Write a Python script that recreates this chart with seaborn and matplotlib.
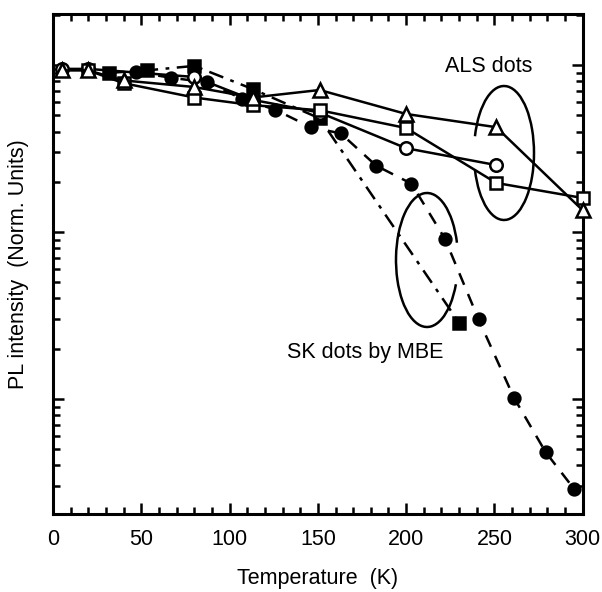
import numpy as np
import pandas as pd
import matplotlib
matplotlib.use("Agg")
import matplotlib.pyplot as plt
import seaborn as sns
from matplotlib.patches import Arc
from matplotlib.transforms import IdentityTransform
from matplotlib.ticker import MultipleLocator, LogLocator, NullFormatter

# SK dots by MBE (filled circles, dashed)
sk_circ_T = [47, 67, 87, 107, 126, 146, 163, 183, 203, 222, 241, 261, 279, 295]
sk_circ_I = [0.91, 0.84, 0.79, 0.63, 0.54, 0.425, 0.39, 0.25, 0.195, 0.091, 0.030, 0.0102, 0.0048, 0.0029]
# SK dots by MBE (filled squares, dash-dot)
sk_sq_T = [32, 53, 80, 113, 151, 230]
sk_sq_I = [0.90, 0.93, 0.99, 0.72, 0.48, 0.0286]
# ALS dots (open markers, solid)
als_tri_T = [5, 20, 40, 80, 113, 151, 200, 251, 300]
als_tri_I = [0.93, 0.93, 0.81, 0.74, 0.64, 0.71, 0.51, 0.425, 0.135]
als_circ_T = [5, 20, 80, 113, 151, 200, 251]
als_circ_I = [0.95, 0.95, 0.85, 0.62, 0.52, 0.318, 0.252]
als_sq_T = [20, 40, 80, 113, 151, 200, 251, 300]
als_sq_I = [0.93, 0.78, 0.64, 0.576, 0.537, 0.42, 0.197, 0.16]

x_ticks = [0, 50, 100, 150, 200, 250, 300]

sns.set_theme(style="ticks")
plt.rcParams['font.family'] = ['Liberation Sans', 'DejaVu Sans']
plt.rcParams['text.color'] = 'black'
plt.rcParams['axes.labelcolor'] = 'black'
plt.rcParams['xtick.color'] = 'black'
plt.rcParams['ytick.color'] = 'black'

fig = plt.figure(figsize=(6.02, 5.92), dpi=100)
ax = fig.add_axes([0.088, 0.132, 0.880, 0.844])

def series(T, I, marker, ls, face, ms):
    df = pd.DataFrame({"T": T, "I": I})
    sns.lineplot(data=df, x="T", y="I", ax=ax, color="black", linestyle=ls,
                 linewidth=1.8, marker=marker, markersize=ms,
                 markerfacecolor=face, markeredgecolor="black",
                 markeredgewidth=1.8, sort=False, zorder=3, clip_on=False)

series(sk_circ_T, sk_circ_I, "o", (0, (5, 4)), "black", 8.5)
series(sk_sq_T, sk_sq_I, "s", (0, (6, 3, 1.5, 3)), "black", 8)
series(als_circ_T, als_circ_I, "o", "-", "white", 9)
series(als_sq_T, als_sq_I, "s", "-", "white", 8.5)
series(als_tri_T, als_tri_I, "^", "-", "white", 10)

ax.set_yscale("log")
ax.set_xlim(0, 300)
ax.set_ylim(0.00205, 2.02)
ax.set_xticks(x_ticks)
ax.xaxis.set_minor_locator(MultipleLocator(10))
ax.yaxis.set_major_locator(LogLocator(base=10))
ax.yaxis.set_minor_locator(LogLocator(base=10, subs=np.arange(2, 10)))
ax.yaxis.set_major_formatter(NullFormatter())
ax.yaxis.set_minor_formatter(NullFormatter())
ax.tick_params(which="both", direction="in", top=True, right=True, width=1.8,
               labelsize=15.5, pad=11)
ax.tick_params(which="major", length=8)
ax.tick_params(which="minor", length=5)
for s in ax.spines.values():
    s.set_linewidth(2.2)
    s.set_color("black")

ax.set_xlabel("Temperature  (K)", fontsize=15.5, labelpad=13)
ax.set_ylabel("PL intensity  (Norm. Units)", fontsize=15.5, va="center")
ax.yaxis.set_label_coords(-0.066, 0.5)

# Annotations
ax.text(247, 0.985, "ALS dots", fontsize=15.5, ha="center", va="center")
ax.text(177, 0.0191, "SK dots by MBE", fontsize=15.5, ha="center", va="center")

def arc_px(cx, cy, w, h, t1, t2):
    # cx, cy in figure pixel coords (top-left origin)
    a = Arc((cx, 592 - cy), w, h, theta1=t1, theta2=t2,
            transform=IdentityTransform(), color="black", linewidth=1.8)
    fig.add_artist(a)

arc_px(504, 153, 60, 134, -150, 150)
arc_px(427, 260, 62, 134, 30, 320)

fig.savefig("out.png", dpi=100)
